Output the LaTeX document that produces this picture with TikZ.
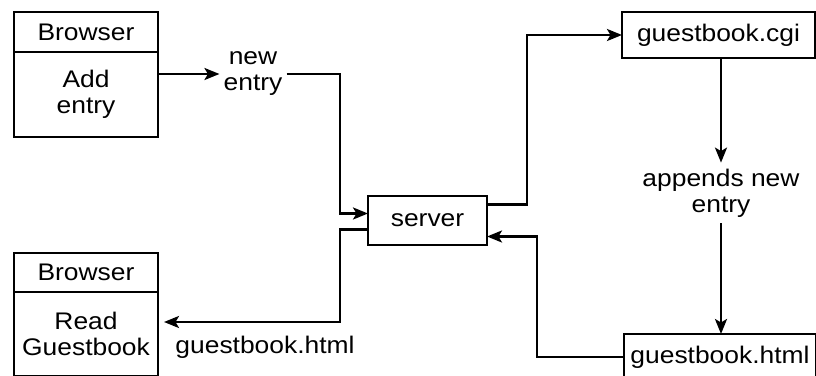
\documentclass[tikz,border=0pt]{standalone}
\usepackage{fontspec}
\setmainfont{Liberation Sans}[FakeStretch=1.1]
\usepackage{tikz}
\usetikzlibrary{arrows.meta}

\begin{document}
\begin{tikzpicture}[x=1pt,y=1pt,
  box/.style={draw=drawColor,line width=2.5pt,inner sep=0pt,outer sep=0pt,align=center},
  lbl/.style={text=drawColor,inner xsep=4pt,inner ysep=6pt,align=center},
  flow/.style={draw=drawColor,line width=2.5pt,line join=miter,-{Stealth[length=15pt,width=12pt,inset=3.5pt]}}]
\definecolor{fillColor}{RGB}{255,255,255}
\definecolor{drawColor}{RGB}{0,0,0}
\path[use as bounding box,fill=fillColor] (0,0) rectangle (816,375);
\fontsize{24}{26}\selectfont
\begin{scope}
\path[clip] (0,0) rectangle (816,375);

\node[box,minimum width=144pt,minimum height=40pt] (addhead) at ( 86,343.0) {Browser};
\node[box,minimum width=144pt,minimum height=85pt] (addbody) at ( 86,280.5) {Add\\entry};

\node[box,minimum width=144pt,minimum height=39pt] (readhead) at ( 86,102.5) {Browser};
\node[box,minimum width=144pt,minimum height=84pt] (readbody) at ( 86, 41.0) {Read\\Guestbook};

\node[box,minimum width=119pt,minimum height=49pt] (server) at (427.5,154.5) {server};

\node[box,minimum width=193pt,minimum height=46pt] (cgi) at (718.5,340) {guestbook.cgi};
\node[box,minimum width=192pt,minimum height=46pt] (html) at (720, 18) {guestbook.html};

\node[lbl] (newentry) at (253,301) {new\\entry};
\node[lbl] (appends) at (721,182) {appends new\\entry};
\node[lbl] (htmllabel) at (265, 28) {guestbook.html};
\end{scope}
\begin{scope}
\coordinate (busL) at (340,0);
\coordinate (busR) at (527,0);
\coordinate (busH) at (537,0);

\draw[flow] (addbody.east |- newentry.west) -- (newentry.west);
\draw[flow] (newentry.east) -- (newentry.east -| busL) |- ([yshift=7pt]server.west);
\draw[flow] ([yshift=16pt]server.east) -- ([yshift=16pt]server.east -| busR) |- (cgi.west);
\draw[flow] (appends.north |- cgi.south) -- (appends.north);
\draw[flow] (appends.south) -- (appends.south |- html.north);
\draw[flow] (html.west) -- (html.west -| busH) |- ([yshift=-16pt]server.east);
\draw[flow,shorten >=6pt] ([yshift=-9pt]server.west) -- ([yshift=-9pt]server.west -| busL) |- ([yshift=12pt]readbody.east);
\end{scope}
\end{tikzpicture}
\end{document}
